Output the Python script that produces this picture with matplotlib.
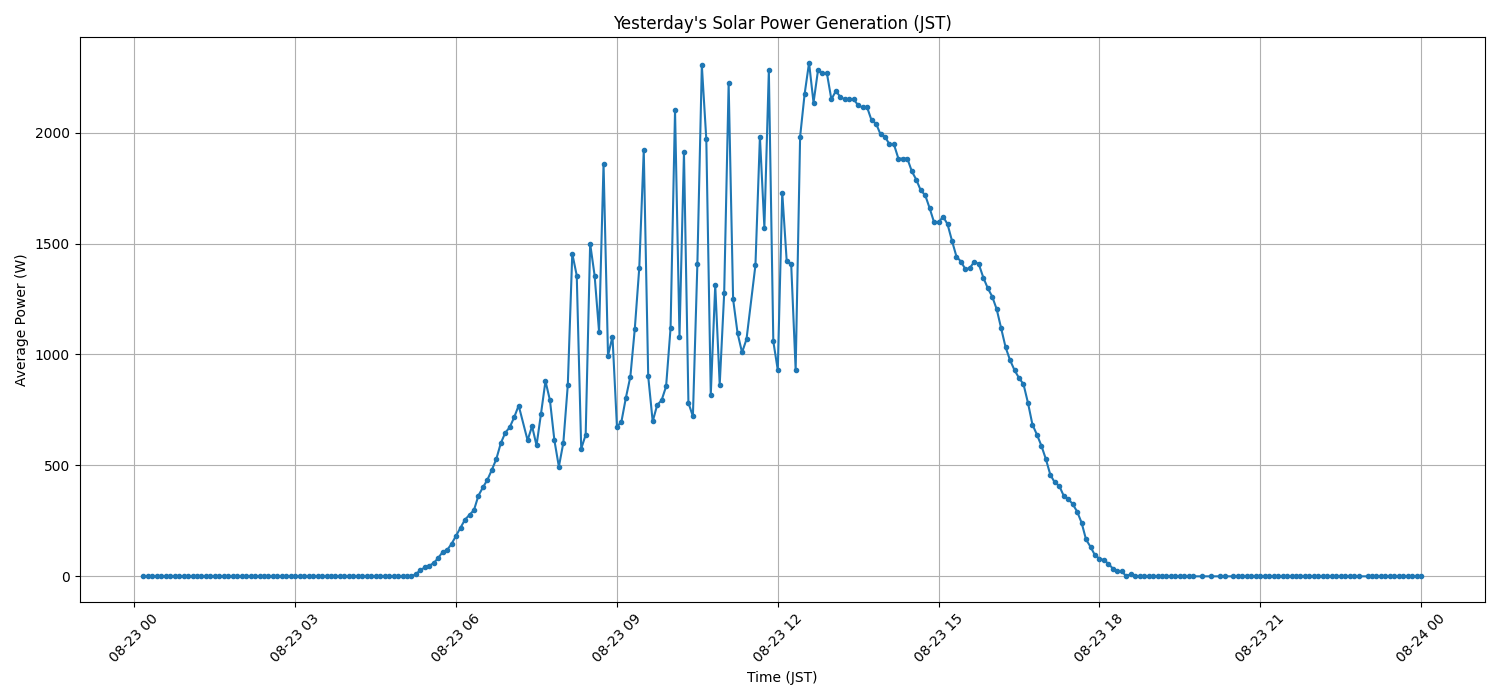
import matplotlib
matplotlib.use("Agg")
import matplotlib.pyplot as plt
import pandas as pd
import numpy as np

# 5-minute slots for each hour (:00, :05, ..., :55); None = no sample
N = None
h00 = [N, N, 0, 0, 0, 0, 0, 0, 0, 0, 0, 0]
h01 = [0, 0, 0, 0, 0, 0, 0, 0, 0, 0, 0, 0]
h02 = [0, 0, 0, 0, 0, 0, 0, 0, 0, 0, 0, 0]
h03 = [0, 0, 0, 0, 0, 0, 0, 0, 0, 0, 0, 0]
h04 = [0, 0, 0, 0, 0, 0, 0, 0, 0, 0, 0, 0]
h05 = [0, 0, 0, 10, 28, 40, 48, 60, 83, 110, 119, 147]
h06 = [183, 218, 256, 277, 299, 364, 401, 435, 480, 529, 600, 647]
h07 = [672, 717, 770, N, 613, 677, 590, 733, 880, 794, 613, 494]
h08 = [602, 863, 1455, 1356, 575, 638, 1500, 1356, 1102, 1860, 995, 1081]
h09 = [674, 697, 805, 900, 1117, 1392, 1920, 901, 698, 772, 794, 856]
h10 = [1119, 2101, 1081, 1911, 782, 721, 1407, 2303, 1970, 818, 1312, 864]
h11 = [1275, 2222, 1249, 1096, 1009, 1069, N, 1403, 1982, 1572, 2281, 1059]
h12 = [930, 1730, 1420, 1407, 930, 1982, 2173, 2315, 2135, 2281, 2267, 2267]
h13 = [2150, 2188, 2161, 2150, 2150, 2150, 2123, 2114, 2114, 2055, 2041, 1992]
h14 = [1982, 1947, 1947, 1883, 1883, 1883, 1826, 1788, 1740, 1718, 1659, 1595]
h15 = [1595, 1622, 1587, 1512, 1441, 1419, 1384, 1390, 1419, 1407, 1347, 1299]
h16 = [1261, 1204, 1118, 1032, 974, 929, 894, 866, 782, 684, 639, 589]
h17 = [529, 458, 423, 408, 363, 349, 326, 292, 242, 166, 133, 95]
h18 = [80, 73, 57, 35, 23, 23, 0, 10, 0, 0, 0, 0]
h19 = [0, 0, 0, 0, 0, 0, 0, 0, 0, 0, N, 0]
h20 = [N, 0, N, 0, 0, N, 0, 0, 0, 0, 0, 0]
h21 = [0, 0, 0, 0, 0, 0, 0, 0, 0, 0, 0, 0]
h22 = [0, 0, 0, 0, 0, 0, 0, 0, 0, 0, 0, N]
h23 = [0, 0, 0, 0, 0, 0, 0, 0, 0, 0, 0, 0]
h24 = [0]  # 08-24 00:00

hourly = [h00, h01, h02, h03, h04, h05, h06, h07, h08, h09, h10, h11,
          h12, h13, h14, h15, h16, h17, h18, h19, h20, h21, h22, h23, h24]

slots = pd.date_range("2024-08-23 00:00", "2024-08-24 00:00", freq="5min")
values = [v for hour in hourly for v in hour]
series = pd.Series(values, index=slots, dtype="float").dropna()

fig, ax = plt.subplots(figsize=(15, 7), dpi=100)
ax.plot(series.index, series.values, marker="o", markersize=3, color="#1f77b4")
ax.set_title("Yesterday's Solar Power Generation (JST)")
ax.set_xlabel("Time (JST)")
ax.set_ylabel("Average Power (W)")
ax.grid(True)
plt.setp(ax.get_xticklabels(), rotation=45)
fig.subplots_adjust(left=0.053, right=0.99, top=0.947, bottom=0.14)
fig.savefig("out.png")
